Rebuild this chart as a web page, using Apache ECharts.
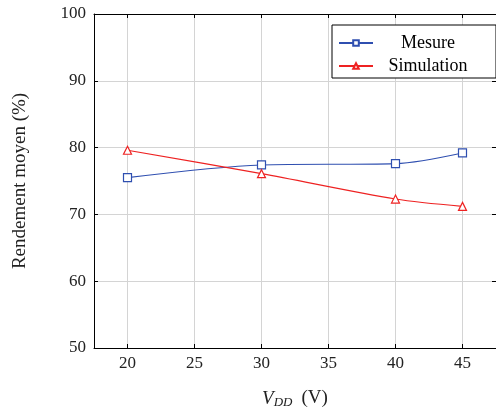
<!DOCTYPE html>
<html><head><meta charset="utf-8">
<script src="https://cdn.jsdelivr.net/npm/echarts@6/dist/echarts.min.js"></script>
<style>html,body{margin:0;padding:0;background:#fff}#c{width:496px;height:414px}</style>
</head><body><div id="c"></div>
<script>
const vdd = [20, 30, 40, 45];
const mesure = [75.5, 77.4, 77.6, 79.2];
const simulation = [79.6, 76.1, 72.3, 71.2];
const xTicks = [20, 25, 30, 35, 40, 45];
const yTicks = [50, 60, 70, 80, 90, 100];

const FONT = 'Liberation Serif';
const chart = echarts.init(document.getElementById('c'), null, {renderer: 'canvas'});
const pairs = a => vdd.map((x, i) => [x, a[i]]);
chart.setOption({
  animation: false,
  grid: {left: 94, top: 14, width: 404, height: 336},
  legend: {
    right: 0, top: 25, orient: 'vertical', itemGap: 5,
    backgroundColor: '#fff', borderColor: '#000', borderWidth: 1,
    padding: [9, 18, 3, 6], itemWidth: 34, itemHeight: 7,
    formatter: n => '{a|' + n + '}',
    textStyle: {fontFamily: FONT, fontSize: 18, color: '#000',
      rich: {a: {fontFamily: FONT, fontSize: 18, width: 100, lineHeight: 20, align: 'center', color: '#000'}}},
    data: ['Mesure', 'Simulation']
  },
  xAxis: [{
    type: 'value', position: 'bottom', min: 17.5, max: 47.5, interval: 2.5,
    axisLine: {onZero: false, lineStyle: {color: '#000', width: 1}},
    axisTick: {inside: true, length: 4, lineStyle: {color: '#000'},
      customValues: xTicks},
    axisLabel: {customValues: xTicks, fontFamily: FONT, fontSize: 17, color: '#222', margin: 7},
    splitLine: {show: true, lineStyle: {color: '#d4d4d4', width: 1}},
    name: '{v|V}{s|DD}{n|(V)}', nameLocation: 'middle', nameGap: 40,
    nameTextStyle: {rich: {
      v: {fontFamily: FONT, fontStyle: 'italic', fontSize: 19, color: '#222'},
      s: {fontFamily: FONT, fontStyle: 'italic', fontSize: 13, color: '#222', verticalAlign: 'bottom', padding: [8, 0, 0, 0]},
      n: {fontFamily: FONT, fontSize: 19, color: '#222', padding: [0, 0, 0, 9]}
    }}
  }, {
    type: 'value', position: 'top', min: 17.5, max: 47.5,
    axisLine: {onZero: false, lineStyle: {color: '#000', width: 1}},
    axisTick: {inside: true, length: 4, lineStyle: {color: '#000'}, customValues: xTicks},
    axisLabel: {show: false, customValues: xTicks},
    splitLine: {show: false}
  }],
  yAxis: [{
    type: 'value', position: 'left', min: 50, max: 100, interval: 10,
    axisLine: {show: true, onZero: false, lineStyle: {color: '#000', width: 1}},
    axisTick: {show: true, inside: true, length: 4, lineStyle: {color: '#000'}},
    axisLabel: {fontFamily: FONT, fontSize: 17, color: '#222', margin: 8},
    splitLine: {show: true, lineStyle: {color: '#d4d4d4', width: 1}},
    name: 'Rendement moyen (%)', nameLocation: 'middle', nameGap: 64,
    nameTextStyle: {fontFamily: FONT, fontSize: 19, color: '#222'}
  }, {
    type: 'value', position: 'right', min: 50, max: 100, interval: 10,
    axisLine: {show: true, onZero: false, lineStyle: {color: '#000', width: 1}},
    axisTick: {show: true, inside: true, length: 4, lineStyle: {color: '#000'}},
    axisLabel: {show: false}, splitLine: {show: false}
  }],
  series: [{
    name: 'Mesure', type: 'line', data: pairs(mesure), smooth: 0.3,
    symbol: 'rect', symbolSize: 8, showAllSymbol: true,
    itemStyle: {color: '#fff', borderColor: '#2f4fb0', borderWidth: 1.2},
    lineStyle: {color: '#2f4fb0', width: 1.1}, color: '#2f4fb0'
  }, {
    name: 'Simulation', type: 'line', data: pairs(simulation), smooth: 0.3,
    symbol: 'triangle', symbolSize: 8,
    itemStyle: {color: '#fff', borderColor: '#ee2222', borderWidth: 1.2},
    lineStyle: {color: '#ee2222', width: 1.1}, color: '#ee2222'
  }]
});
</script></body></html>
